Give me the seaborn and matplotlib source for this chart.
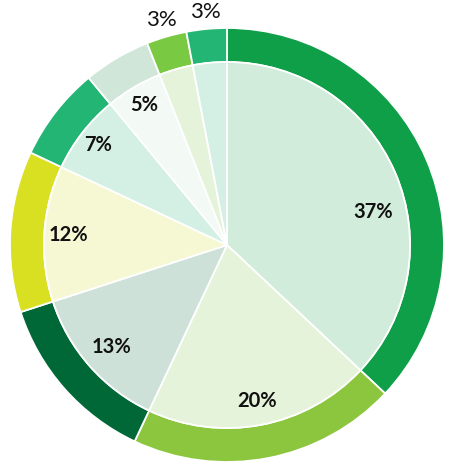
import matplotlib
matplotlib.use("Agg")

import matplotlib.pyplot as plt
import numpy as np
import seaborn as sns

# slice shares, clockwise from 12 o'clock
labels = ["37%", "20%", "13%", "12%", "7%", "5%", "3%", "3%"]
shares = [37, 20, 13, 12, 7, 5, 3, 3]

outer_colors = ["#0e9f48", "#8cc63e", "#006837", "#d9df21",
                "#23b574", "#cfe6d9", "#7ac943", "#23b574"]
inner_colors = ["#d1ecdb", "#e6f3db", "#cde1d8", "#f6f8d4",
                "#d4efe3", "#f3f9f4", "#e5f3da", "#d4efe3"]

# label placement: radius as fraction of outer radius, small angle nudge (deg)
label_radius = [0.69, 0.73, 0.71, 0.73, 0.75, 0.75, 1.08, 1.08]
label_nudge = [-10.5, 0, 0, 0, 0, 0, 0, 0]
label_weight = ["bold"] * 6 + ["normal"] * 2
label_size = [14.5] * 6 + [16] * 2

sns.set_theme(style="white")
plt.rcParams["font.family"] = ["Lato", "DejaVu Sans"]

fig = plt.figure(figsize=(4.6, 4.69), dpi=100)
ax = fig.add_axes([0, 0, 1, 1])

center = (227, 224)
R = 217
r_in = 183

wedge_kw = dict(edgecolor="white", linewidth=1.3)
ax.pie(shares, colors=outer_colors, radius=R, center=center,
       startangle=90, counterclock=False,
       wedgeprops=dict(width=R - r_in, **wedge_kw), frame=True)
ax.pie(shares, colors=inner_colors, radius=r_in, center=center,
       startangle=90, counterclock=False,
       wedgeprops=wedge_kw, frame=True)
ax.set_xlim(0, 460)
ax.set_ylim(0, 469)
ax.set_aspect("equal")
ax.axis("off")

total = sum(shares)
start = 90.0
for lab, val, rf, nudge, w, fs in zip(labels, shares, label_radius,
                                      label_nudge, label_weight, label_size):
    sweep = 360.0 * val / total
    mid = np.deg2rad(start - sweep / 2 + nudge)
    start -= sweep
    x = center[0] + rf * R * np.cos(mid)
    y = center[1] + rf * R * np.sin(mid)
    ax.text(x, y, lab, ha="center", va="center", fontsize=fs,
            fontweight=w, color="#111111")

fig.savefig("out.png", dpi=100)
